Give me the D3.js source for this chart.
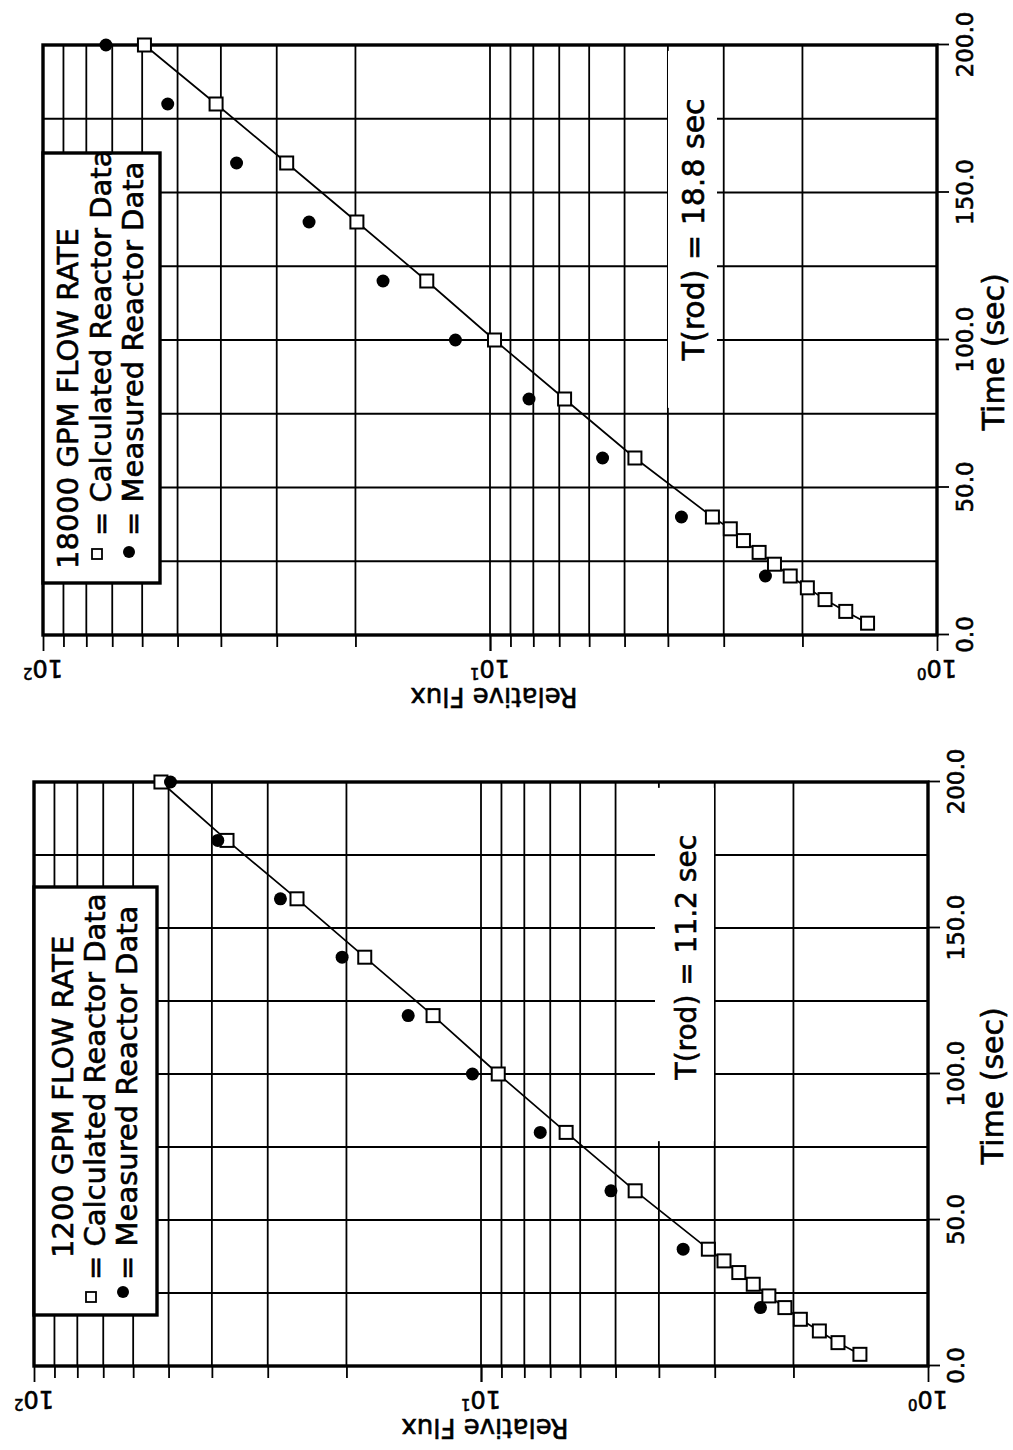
<!DOCTYPE html>
<html><head><meta charset="utf-8">
<script src="https://cdn.jsdelivr.net/npm/d3@7"></script>
<style>body{margin:0;background:#fff} svg{display:block}</style>
</head><body>
<svg id="c" width="1013" height="1450"></svg>
<script>
// ---- data ----
const timeTickValues = [0, 50, 100, 150, 200];
const timeTickLabels = ["0.0", "50.0", "100.0", "150.0", "200.0"];
const timeGridValues = [0, 25, 50, 75, 100, 125, 150, 175, 200];
const fluxDecades = [1, 10, 100];
const fluxDecadeExponents = ["0", "1", "2"];
const fluxGridValues = [2, 3, 4, 5, 6, 7, 8, 9, 10, 20, 30, 40, 50, 60, 70, 80, 90];

const calcTime = [4, 8, 12, 16, 20, 24, 28, 32, 36, 40, 60, 80, 100, 120, 140, 160, 180, 200];
const calc1200Flux = [1.42, 1.59, 1.75, 1.93, 2.09, 2.27, 2.46, 2.65, 2.86, 3.10, 4.52, 6.45, 9.15, 12.8, 18.2, 25.8, 37.0, 52.0];
const measTime = [20, 40, 60, 80, 100, 120, 140, 160, 180, 200];
const meas1200Flux = [2.37, 3.53, 5.12, 7.37, 10.45, 14.55, 20.45, 28.1, 38.8, 49.5];

const calc18000Flux = [1.43, 1.60, 1.78, 1.95, 2.13, 2.31, 2.50, 2.71, 2.90, 3.18, 4.74, 6.81, 9.77, 13.85, 19.85, 28.5, 41.0, 59.3];
const meas18000Flux = [2.42, 3.73, 5.6, 8.18, 11.95, 17.35, 25.4, 36.9, 52.6, 72.3];

const panelTitles = ["1200 GPM FLOW RATE", "18000 GPM FLOW RATE"];
const legendLabels = ["= Calculated Reactor Data", "= Measured Reactor Data"];
const rodLabels = ["T(rod) = 11.2 sec", "T(rod) = 18.8 sec"];
const xTitle = "Time (sec)";
const yTitle = "Relative Flux";

// ---- drawing ----
const svg = d3.select("#c");
svg.append("rect").attr("width", 1013).attr("height", 1450).attr("fill", "#fff");
const FONT = "DejaVu Sans, Liberation Sans, Arial, sans-serif";
const TS = 0.6; // text stroke to mimic the heavy scanned print

const panels = [
  { x0: 34, y0: 1366, W: 584, H: 894, calc: calc1200Flux, meas: meas1200Flux, title: panelTitles[0], rod: rodLabels[0],
    rodBoxV: [621, 680], rodT: 140, rodV: 662, rodFont: 28,
    leg: { u0: 51, u1: 479, v1: 123, base: [39, 71, 103], titleU: 108, sqU: 69, ciU: 74, eqU: 86 },
    titleV: 969 },
  { x0: 43, y0: 635, W: 590, H: 894, calc: calc18000Flux, meas: meas18000Flux, title: panelTitles[1], rod: rodLabels[1],
    rodBoxV: [625, 674], rodT: 137.5, rodV: 661, rodFont: 30,
    leg: { u0: 52, u1: 482, v1: 117, base: [35, 68, 100], titleU: 66, sqU: 81, ciU: 83, eqU: 99 },
    titleV: 961 }
];

panels.forEach(cfg => {
  const g = svg.append("g").attr("transform", `translate(${cfg.x0},${cfg.y0}) rotate(-90)`);
  const x = d3.scaleLinear().domain([0, 200]).range([0, cfg.W]);
  const y = d3.scaleLog().domain([1, 100]).range([cfg.H, 0]);

  // grid
  g.append("g").selectAll("line").data(timeGridValues).join("line")
    .attr("x1", d => x(d)).attr("x2", d => x(d)).attr("y1", 0).attr("y2", cfg.H)
    .attr("stroke", "#000").attr("stroke-width", 1.8);
  g.append("g").selectAll("line").data(fluxGridValues).join("line")
    .attr("x1", 0).attr("x2", cfg.W).attr("y1", d => y(d)).attr("y2", d => y(d))
    .attr("stroke", "#000").attr("stroke-width", 1.8);

  // knockout behind rod label
  g.append("rect")
    .attr("x", x(77)).attr("width", x(198) - x(77))
    .attr("y", cfg.rodBoxV[0]).attr("height", cfg.rodBoxV[1] - cfg.rodBoxV[0])
    .attr("fill", "#fff");

  // time axis (original bottom axis)
  const xAxis = d3.axisBottom(x).tickValues(timeTickValues)
    .tickFormat((d, i) => timeTickLabels[i]).tickSize(12).tickSizeOuter(0);
  const ax = g.append("g").attr("transform", `translate(0,${cfg.H})`).call(xAxis);
  ax.select(".domain").remove();
  ax.selectAll("line").attr("stroke", "#000").attr("stroke-width", 1.8);
  ax.selectAll("text").attr("y", 36).attr("dy", 0)
    .attr("font-size", 23).attr("font-family", FONT).attr("fill", "#000")
    .attr("stroke", "#000").attr("stroke-width", TS);

  // flux axis (original left axis)
  const yAxis = d3.axisLeft(y).tickValues(fluxGridValues.concat(fluxDecades))
    .tickFormat("").tickSize(12).tickSizeOuter(0);
  const ay = g.append("g").call(yAxis);
  ay.select(".domain").remove();
  ay.selectAll(".tick line").attr("stroke", "#000").attr("stroke-width", 1.8)
    .attr("x2", d => fluxDecades.includes(d) ? -16 : -12);
  fluxDecades.forEach((d, i) => {
    const t = g.append("text")
      .attr("transform", `translate(-25,${y(d)}) rotate(-90)`)
      .attr("text-anchor", "middle").attr("font-family", FONT).attr("font-size", 24)
      .attr("stroke", "#000").attr("stroke-width", TS);
    t.append("tspan").text("10");
    t.append("tspan").attr("dy", "-0.55em").attr("font-size", 15).text(fluxDecadeExponents[i]);
  });

  // frame
  g.append("rect").attr("x", 0).attr("y", 0).attr("width", cfg.W).attr("height", cfg.H)
    .attr("fill", "none").attr("stroke", "#000").attr("stroke-width", 3.4);

  // calculated line + squares
  const calcPts = calcTime.map((t, i) => ({ t, f: cfg.calc[i] }));
  g.append("path").datum(calcPts)
    .attr("d", d3.line().x(d => x(d.t)).y(d => y(d.f)))
    .attr("fill", "none").attr("stroke", "#000").attr("stroke-width", 1.7);
  g.append("g").selectAll("rect").data(calcPts).join("rect")
    .attr("x", d => x(d.t) - 6.5).attr("y", d => y(d.f) - 6.5)
    .attr("width", 13).attr("height", 13)
    .attr("fill", "#fff").attr("stroke", "#000").attr("stroke-width", 2);

  // measured circles
  const measPts = measTime.map((t, i) => ({ t, f: cfg.meas[i] }));
  g.append("g").selectAll("circle").data(measPts).join("circle")
    .attr("cx", d => x(d.t)).attr("cy", d => y(d.f)).attr("r", 6.5).attr("fill", "#000");

  // rod label
  g.append("text").attr("x", x(cfg.rodT)).attr("y", cfg.rodV)
    .attr("text-anchor", "middle").attr("font-family", FONT).attr("font-size", cfg.rodFont)
    .attr("stroke", "#000").attr("stroke-width", TS)
    .text(cfg.rod);

  // legend box
  const L = cfg.leg;
  g.append("rect").attr("x", L.u0).attr("y", 0).attr("width", L.u1 - L.u0).attr("height", L.v1)
    .attr("fill", "#fff").attr("stroke", "#000").attr("stroke-width", 3.4);
  g.append("text").attr("x", L.titleU).attr("y", L.base[0])
    .attr("font-family", FONT).attr("font-size", 29)
    .attr("stroke", "#000").attr("stroke-width", TS).text(cfg.title);
  g.append("rect").attr("x", L.sqU - 5).attr("y", L.base[1] - 14 - 5).attr("width", 10).attr("height", 10)
    .attr("fill", "#fff").attr("stroke", "#000").attr("stroke-width", 1.8);
  g.append("circle").attr("cx", L.ciU).attr("cy", L.base[2] - 14).attr("r", 6).attr("fill", "#000");
  legendLabels.forEach((lab, i) => {
    g.append("text").attr("x", L.eqU).attr("y", L.base[i + 1])
      .attr("font-family", FONT).attr("font-size", 29)
      .attr("stroke", "#000").attr("stroke-width", TS).text(lab);
  });

  // axis titles
  g.append("text").attr("x", x(96)).attr("y", cfg.titleV)
    .attr("text-anchor", "middle").attr("font-family", FONT).attr("font-size", 30)
    .attr("stroke", "#000").attr("stroke-width", TS).text(xTitle);
  g.append("text").attr("transform", `translate(-53,${cfg.H / 2 + 4}) rotate(-90)`)
    .attr("text-anchor", "middle").attr("font-family", FONT).attr("font-size", 26)
    .attr("stroke", "#000").attr("stroke-width", TS).text(yTitle);
});
</script>
</body></html>
